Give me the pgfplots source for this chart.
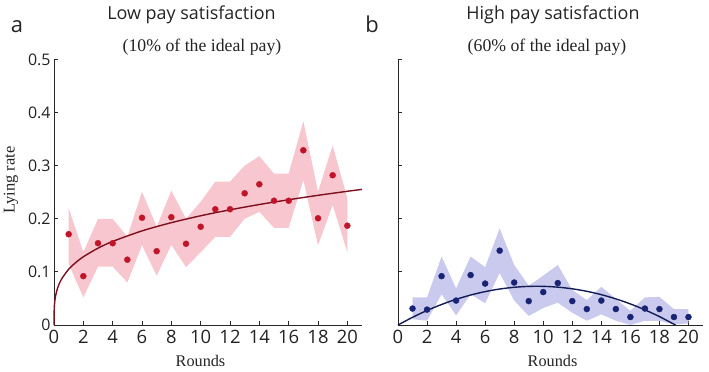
\documentclass[border=0pt]{standalone}
\usepackage{fontspec}
\setmainfont{Liberation Serif}
\newfontfamily\osans{Open Sans}
\usepackage{pgfplots}
\pgfplotsset{compat=1.18}

\definecolor{redpt}{RGB}{192,20,40}
\definecolor{redln}{RGB}{125,15,30}
\definecolor{redband}{RGB}{247,198,206}
\definecolor{bluept}{RGB}{25,35,115}
\definecolor{blueln}{RGB}{20,28,85}
\definecolor{blueband}{RGB}{202,202,238}
\definecolor{axcol}{RGB}{40,40,40}
\definecolor{txt}{RGB}{35,35,35}

\pgfplotsset{
  myax/.style={
    scale only axis, height=265.5bp,
    xmin=0, xmax=21, ymin=0, ymax=0.5,
    axis x line*=bottom, axis y line*=left,
    axis line style={-, line width=0.8bp, axcol},
    tick align=inside, major tick length=4bp,
    tick style={line width=0.8bp, axcol},
    xtick={0,2,4,6,8,10,12,14,16,18,20},
    ytick={0,0.1,0.2,0.3,0.4,0.5},
    /pgf/number format/assume math mode=true,
    xticklabel style={font=\osans\fontsize{18.5}{18.5}\selectfont, text=txt, yshift=-2bp},
    yticklabel style={font=\osans\fontsize{16}{16}\selectfont, text=txt},
    clip=false,
  }
}

\begin{document}
\begin{tikzpicture}
\path[use as bounding box] (0,0) rectangle (709bp,372bp);

\begin{axis}[myax, width=308bp, at={(54bp,47bp)}, anchor=south west]
\addplot[fill=redband, draw=none] coordinates {
(1,0.22)(2,0.137)(3,0.2)(4,0.2)(5,0.166)(6,0.251)(7,0.185)(8,0.253)(9,0.2)(10,0.232)
(11,0.27)(12,0.27)(13,0.3)(14,0.318)(15,0.285)(16,0.285)(17,0.384)(18,0.251)(19,0.338)(20,0.239)
(20,0.137)(19,0.226)(18,0.15)(17,0.273)(16,0.183)(15,0.183)(14,0.213)(13,0.2)(12,0.166)(11,0.166)
(10,0.137)(9,0.109)(8,0.151)(7,0.093)(6,0.15)(5,0.08)(4,0.11)(3,0.11)(2,0.052)(1,0.115)
} -- cycle;
\addplot[redln, line width=1.4bp, smooth] coordinates {
(0,0)(0.02,0.0335)(0.1,0.0536)(0.25,0.070)(0.5,0.0858)(1,0.105)(1.5,0.118)(2,0.1285)
(3,0.1447)(4,0.1574)(6,0.1772)(8,0.1927)(10,0.2057)(12,0.2169)(14,0.2269)(16,0.2359)
(18,0.2442)(20,0.2518)(21,0.2554)
};
\addplot[only marks, mark=*, mark size=3bp, mark options={fill=redpt, draw=redpt}] coordinates {
(1,0.171)(2,0.092)(3,0.154)(4,0.154)(5,0.123)(6,0.202)(7,0.139)(8,0.203)(9,0.153)(10,0.185)
(11,0.218)(12,0.218)(13,0.248)(14,0.265)(15,0.234)(16,0.234)(17,0.329)(18,0.201)(19,0.282)(20,0.187)
};
\end{axis}

\begin{axis}[myax, width=305bp, at={(398bp,47bp)}, anchor=south west, yticklabels={}]
\addplot[fill=blueband, draw=none] coordinates {
(1,0.052)(2,0.052)(3,0.129)(4,0.069)(5,0.129)(6,0.109)(7,0.182)(8,0.113)(9,0.074)(10,0.093)
(11,0.113)(12,0.066)(13,0.047)(14,0.072)(15,0.049)(16,0.027)(17,0.052)(18,0.053)(19,0.030)(20,0.030)
(20,0.003)(19,0.001)(18,0.008)(17,0.008)(16,0.0)(15,0.008)(14,0.020)(13,0.008)(12,0.023)(11,0.042)
(10,0.032)(9,0.017)(8,0.046)(7,0.098)(6,0.041)(5,0.058)(4,0.018)(3,0.058)(2,0.008)(1,0.011)
} -- cycle;
\addplot[blueln, line width=1.4bp, smooth] coordinates {
(0,0)(1,0.01448)(2,0.02736)(3,0.03864)(4,0.04832)(5,0.0564)(6,0.06288)(7,0.06776)(8,0.07104)
(9,0.07272)(10,0.0728)(11,0.07128)(12,0.06816)(13,0.06344)(14,0.05712)(15,0.0492)(16,0.03968)
(17,0.02856)(18,0.01584)(19,0.00152)(19.1,0)
};
\addplot[only marks, mark=*, mark size=3bp, mark options={fill=bluept, draw=bluept}] coordinates {
(1,0.031)(2,0.029)(3,0.092)(4,0.046)(5,0.094)(6,0.078)(7,0.140)(8,0.080)(9,0.045)(10,0.062)
(11,0.079)(12,0.045)(13,0.030)(14,0.046)(15,0.030)(16,0.015)(17,0.031)(18,0.030)(19,0.015)(20,0.015)
};
\end{axis}

\node[font=\osans\fontsize{22}{22}\selectfont, anchor=base, text=txt] at (17bp,339bp) {a};
\node[font=\osans\fontsize{22}{22}\selectfont, anchor=base, text=txt] at (372bp,339bp) {b};
\node[font=\osans\fontsize{18}{18}\selectfont, anchor=base, text=txt] at (191.5bp,352bp) {Low pay satisfaction};
\node[font=\osans\fontsize{18}{18}\selectfont, anchor=base, text=txt] at (553bp,352bp) {High pay satisfaction};
\node[font=\fontsize{17.8}{17.8}\selectfont, anchor=base, text=txt] at (202bp,320bp) {(10\% of the ideal pay)};
\node[font=\fontsize{17.8}{17.8}\selectfont, anchor=base, text=txt] at (547bp,320bp) {(60\% of the ideal pay)};
\node[font=\fontsize{16.3}{16.3}\selectfont, anchor=base, text=txt] at (200.5bp,6bp) {Rounds};
\node[font=\fontsize{16.3}{16.3}\selectfont, anchor=base, text=txt] at (552.5bp,6bp) {Rounds};
\node[font=\fontsize{16.5}{16.5}\selectfont, rotate=90, text=txt] at (11bp,192bp) {Lying rate};
\end{tikzpicture}
\end{document}
